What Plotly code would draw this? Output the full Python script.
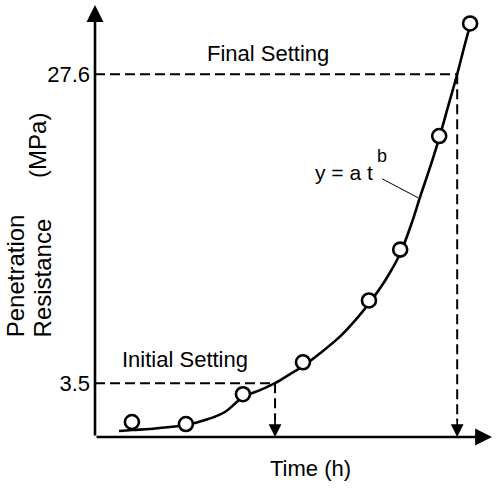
import plotly.graph_objects as go

# measured points (time in h, penetration resistance in MPa)
obs_t = [1.23, 3.03, 4.93, 6.93, 9.13, 10.17, 11.47, 12.5]
obs_y = [0.47, 0.31, 2.64, 5.13, 9.95, 13.92, 22.78, 31.56]

# fitted curve y = a t^b
fit_t = [0.80, 1.23, 1.83, 2.5, 3.03, 3.67, 4.33, 4.93, 5.5, 6.0, 6.5, 6.93, 7.5, 8.17,
         8.67, 9.13, 9.67, 10.17, 10.57, 10.83, 11.17, 11.47, 11.77, 12.07, 12.3, 12.5]
fit_y = [-0.23, -0.15, -0.08, 0.08, 0.23, 0.62, 1.25, 2.41, 2.96, 3.5, 4.20, 4.82, 5.83, 7.15,
         8.40, 9.72, 11.51, 13.61, 16.10, 18.0, 20.37, 22.62, 25.11, 27.6, 29.70, 31.41]

levels = [3.5, 27.6]
level_labels = ["3.5", "27.6"]
set_times = [6.0, 12.07]
set_names = ["Initial Setting", "Final Setting"]

X_MAX = 13.23
Y_MIN, Y_MAX = -0.70, 33.0
FONT = "Liberation Sans, Arial, sans-serif"

fig = go.Figure()

# dashed guide lines
for lv, st in zip(levels, set_times):
    fig.add_trace(go.Scatter(x=[0, st], y=[lv, lv], mode="lines",
                             line=dict(color="black", width=2, dash="10px,5px"),
                             hoverinfo="skip", showlegend=False))
    fig.add_trace(go.Scatter(x=[st, st], y=[lv, Y_MIN + 1.3], mode="lines",
                             line=dict(color="black", width=2, dash="10px,5px"),
                             hoverinfo="skip", showlegend=False))
    fig.add_annotation(x=st, y=Y_MIN, ax=0, ay=-20, xref="x", yref="y",
                       showarrow=True, arrowhead=2, arrowsize=1.5, arrowwidth=1.7,
                       arrowcolor="black", text="")

# fitted curve
fig.add_trace(go.Scatter(x=fit_t, y=fit_y, mode="lines",
                         line=dict(color="black", width=2.6, shape="spline", smoothing=1.0),
                         hoverinfo="skip", showlegend=False))
# observations
fig.add_trace(go.Scatter(x=obs_t, y=obs_y, mode="markers",
                         marker=dict(symbol="circle", size=14, color="white",
                                     line=dict(color="black", width=2.6)),
                         showlegend=False))

# axes with arrows
fig.add_annotation(x=0, y=Y_MAX, ax=0, ay=Y_MIN, axref="x", ayref="y", xref="x", yref="y",
                   showarrow=True, arrowhead=2, arrowsize=1.3, arrowwidth=2.6, arrowcolor="black", text="")
fig.add_annotation(x=X_MAX, y=Y_MIN, ax=0, ay=Y_MIN, axref="x", ayref="y", xref="x", yref="y",
                   showarrow=True, arrowhead=2, arrowsize=1.3, arrowwidth=2.6, arrowcolor="black", text="")

# equation label and leader
fig.add_annotation(x=8.3, y=19.9, xref="x", yref="y", text="y = a t", showarrow=False,
                   xanchor="center", yanchor="middle",
                   font=dict(family=FONT, size=21, color="black"))
fig.add_annotation(x=9.55, y=21.2, xref="x", yref="y", text="b", showarrow=False,
                   xanchor="center", yanchor="middle",
                   font=dict(family=FONT, size=18, color="black"))
fig.add_shape(type="line", x0=9.57, y0=19.44, x1=10.77, y1=17.96, xref="x", yref="y",
              line=dict(color="black", width=1))

# setting labels
fig.add_annotation(x=3.0, y=5.37, xref="x", yref="y", text=set_names[0], showarrow=False,
                   xanchor="center", yanchor="middle",
                   font=dict(family=FONT, size=22, color="black"))
fig.add_annotation(x=5.77, y=29.23, xref="x", yref="y", text=set_names[1], showarrow=False,
                   xanchor="center", yanchor="middle",
                   font=dict(family=FONT, size=22, color="black"))

# axis titles
fig.add_annotation(x=-0.2015, y=0.372, xref="paper", yref="paper", text="Penetration", textangle=-90,
                   xanchor="center", yanchor="middle",
                   showarrow=False, font=dict(family=FONT, size=24, color="black"))
fig.add_annotation(x=-0.1335, y=0.367, xref="paper", yref="paper", text="Resistance", textangle=-90,
                   xanchor="center", yanchor="middle",
                   showarrow=False, font=dict(family=FONT, size=24, color="black"))
fig.add_annotation(x=-0.1436, y=0.676, xref="paper", yref="paper", text="(MPa)", textangle=-90,
                   xanchor="center", yanchor="middle",
                   showarrow=False, font=dict(family=FONT, size=24, color="black"))
fig.add_annotation(x=0.5416, y=-0.074, xref="paper", yref="paper", text="Time (h)",
                   xanchor="center", yanchor="middle",
                   showarrow=False, font=dict(family=FONT, size=22, color="black"))

fig.update_xaxes(range=[0, X_MAX], showgrid=False, zeroline=False, showline=False,
                 showticklabels=False, ticks="")
fig.update_yaxes(range=[Y_MIN, Y_MAX], showgrid=False, zeroline=False, showline=False,
                 tickvals=levels, ticktext=level_labels, ticks="", ticklabelstandoff=4,
                 tickfont=dict(family=FONT, size=22, color="black"))

fig.update_layout(width=497, height=489, margin=dict(l=95, r=5, t=5, b=52),
                  plot_bgcolor="white", paper_bgcolor="white")

fig.write_html("out.html")
